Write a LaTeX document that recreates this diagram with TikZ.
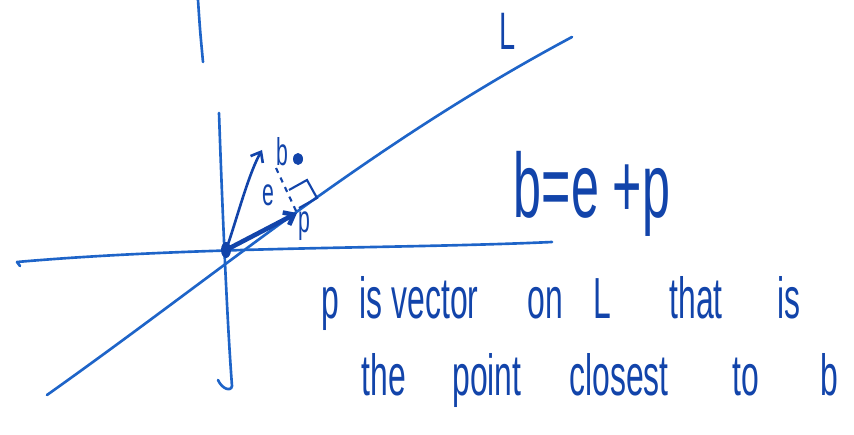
\documentclass[tikz,border=0pt]{standalone}
\usepackage{fontspec}
\setmainfont{Liberation Sans}
\newfontfamily\handfont[FakeStretch=0.55]{Liberation Sans}
\usetikzlibrary{arrows.meta}
\definecolor{ink}{RGB}{30,100,200}
\definecolor{inkdark}{RGB}{18,68,170}
\tikzset{
  axis/.style={draw=ink, line width=1.5pt, line cap=round},
  vec/.style={draw=inkdark, line width=1.5pt, line cap=round, -{Straight Barb[length=5pt,width=8pt]}},
  word/.style={text=inkdark, inner sep=0pt, anchor=base, font=\handfont\fontsize{33}{36}\selectfont},
  tag/.style={word, font=\handfont\fontsize{22}{24}\selectfont},
  eqn/.style={word, font=\handfont\fontsize{52}{56}\selectfont},
}
\begin{document}
\begin{tikzpicture}[x=0.02cm, y=-0.02cm]
  \useasboundingbox (0,0) rectangle (854,435);

  \coordinate (O) at (226,250);
  \coordinate (TOPA) at (198,0);
  \coordinate (TOPB) at (203,62);
  \coordinate (YT) at (219,113);
  \coordinate (YB) at (232,386);
  \coordinate (XL) at (17,262);
  \coordinate (XR) at (552,242);
  \coordinate (LBOT) at (47,395);
  \coordinate (LTOP) at (572,37);
  \coordinate (B) at (262,150);
  \coordinate (E) at (276,168);
  \coordinate (P) at (297,213);
  \coordinate (A) at (299,208);

  % axes and the line L
  \draw[axis] (TOPA) .. controls (200,30) .. (TOPB);
  \draw[axis] (YT) .. controls (222,200) and (227,320) .. (YB)
    .. controls (231,392) and (222,389) .. (218,380);
  \draw[axis] (XL) -- ++(3,4);
  \draw[axis] (XL) .. controls (200,246) and (400,249) .. (XR);
  \draw[axis] (LBOT) .. controls (230,265) and (370,145) .. (LTOP);
  \fill[inkdark] (O) ellipse (5 and 8);

  % vectors
  \draw[vec] (O) .. controls (236,222) and (248,175) .. (B);
  \draw[vec, line width=2.6pt] (O) -- (P);
  \draw[inkdark, line width=1.2pt, dashed] (E) -- (P);
  \draw[inkdark, line width=1.2pt] (A) -- ++(18,-10) -- ++(-10,-18) -- ++(-18,10);
  \fill[inkdark] (298,159) ellipse (5 and 6);

  % labels
  \node[tag, font=\handfont\fontsize{30}{32}\selectfont] (LL) at (508,50) {L};
  \node[tag] (LB) at (282,166) {b};
  \node[tag] (LE) at (268,206) {e};
  \node[tag] (LP) at (304,233) {p};
  \node[eqn] (EQ) at (592,218) {b=e +p};

  \node[word] (W1) at (330,318) {p};
  \node[word] (W2) at (371,318) {is};
  \node[word] (W3) at (435,318) {vector};
  \node[word] (W4) at (545,318) {on};
  \node[word] (W5) at (602,318) {L};
  \node[word] (W6) at (696,318) {that};
  \node[word] (W7) at (789,318) {is};

  \node[word] (V1) at (384,395) {the};
  \node[word] (V2) at (487,395) {point};
  \node[word] (V3) at (619,395) {closest};
  \node[word] (V4) at (746,395) {to};
  \node[word] (V5) at (829,395) {b};
\end{tikzpicture}
\end{document}
